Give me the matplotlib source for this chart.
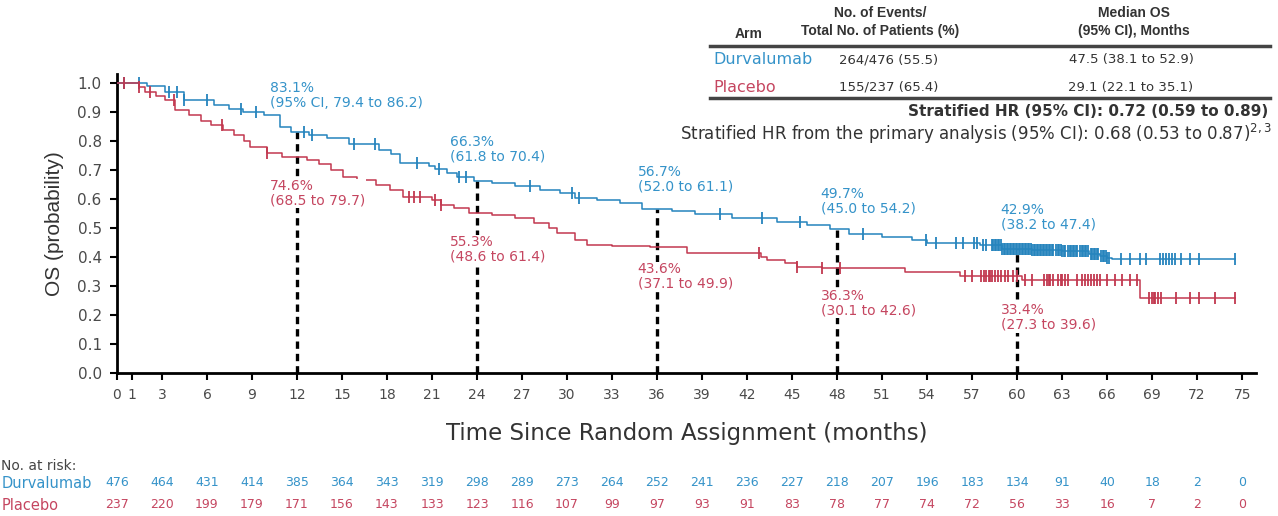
import numpy as np
import matplotlib
matplotlib.use("Agg")
import matplotlib.pyplot as plt
import matplotlib.transforms as mtransforms
from matplotlib.lines import Line2D

plt.rcParams['font.family'] = ['DejaVu Sans']

# Kaplan-Meier steps (event times in months, survival after each step)
dur_t = [0, 2.0, 3.2, 4.5, 6.5, 7.5, 8.4, 9.8, 10.9, 11.6, 12.8, 14.0, 15.5, 17.5, 18.3,
         18.9, 20.8, 21.2, 22.0, 22.7, 23.8, 25.0, 26.5, 28.2, 29.5, 30.5, 32.0, 33.5,
         35.0, 37.0, 38.5, 41.0, 44.0, 46.0, 47.5, 48.8, 51.0, 53.0, 54.0, 57.5, 59.0,
         61.0, 63.0, 64.8, 65.5, 66.0, 66.3]
dur_s = [1.0, 0.99, 0.97, 0.94, 0.925, 0.91, 0.90, 0.89, 0.85, 0.831, 0.82, 0.81, 0.79,
         0.77, 0.755, 0.725, 0.715, 0.703, 0.69, 0.677, 0.663, 0.655, 0.645, 0.632, 0.62,
         0.605, 0.595, 0.585, 0.567, 0.56, 0.548, 0.536, 0.522, 0.51, 0.497, 0.48, 0.47,
         0.46, 0.448, 0.44, 0.429, 0.425, 0.42, 0.412, 0.405, 0.398, 0.393]

pla_t = [0, 1.5, 1.9, 2.6, 3.2, 3.9, 4.8, 5.6, 6.3, 7.1, 7.8, 8.5, 8.9, 10.0, 11.0, 12.7,
         13.5, 14.3, 15.1, 16.0, 17.3, 18.2, 19.1, 21.0, 21.6, 22.5, 23.5, 25.0, 26.5,
         27.8, 28.8, 29.3, 30.5, 31.3, 33.0, 35.5, 38.0, 42.9, 43.3, 44.5, 45.3, 47.0,
         52.5, 56.2, 60.3, 68.2]
pla_s = [1.0, 0.985, 0.97, 0.955, 0.94, 0.907, 0.89, 0.87, 0.855, 0.838, 0.82, 0.80, 0.78,
         0.76, 0.746, 0.735, 0.72, 0.70, 0.677, 0.665, 0.648, 0.63, 0.608, 0.597, 0.579,
         0.57, 0.553, 0.545, 0.535, 0.517, 0.50, 0.483, 0.46, 0.441, 0.438, 0.436, 0.414,
         0.401, 0.39, 0.378, 0.367, 0.363, 0.35, 0.334, 0.321, 0.258]

# censoring times
dur_cens = [0.5, 1.5, 3.5, 4.0, 4.5, 6.0, 8.3, 9.3, 12.5, 13.0, 15.8, 17.2, 20.0, 21.5,
            22.8, 23.3, 27.5, 30.3, 30.8, 40.2, 43.0, 45.5, 49.7, 53.9, 54.6, 55.9, 56.4,
            57.1, 57.3, 57.7, 57.9,
            58.3, 58.4, 58.5, 58.6, 58.7, 58.8, 58.9, 59.0, 59.1, 59.2, 59.3, 59.4, 59.5,
            59.6, 59.7, 59.8, 59.9, 60.0, 60.1, 60.2, 60.3, 60.4, 60.5, 60.6, 60.7, 60.8,
            60.9, 61.0, 61.1, 61.2, 61.3, 61.4, 61.5, 61.6, 61.7, 61.8, 61.9, 62.0, 62.1,
            62.2, 62.3, 62.4, 62.6, 62.7, 62.8, 62.9, 63.0, 63.1, 63.2, 63.4, 63.5, 63.6,
            63.7, 63.8, 63.9, 64.0, 64.2, 64.3, 64.4, 64.5, 64.6, 64.7, 64.9, 65.0, 65.1,
            65.2, 65.3, 65.4, 65.6, 65.7, 65.8, 65.9, 66.0, 66.1,
            66.9, 67.5, 68.2, 68.6, 69.5, 69.7, 69.9, 70.1, 70.3, 70.5, 70.9, 71.5, 72.1,
            74.5]
pla_cens = [0.5, 1.5, 2.2, 3.8, 7.0, 10.0, 19.5, 19.8, 20.2, 21.2, 21.6, 42.8, 45.3, 47.0,
            48.2, 56.5, 57.0, 57.6, 57.8, 57.9, 58.1, 58.2, 58.3, 58.5, 58.7, 58.9, 59.2,
            59.4, 59.7, 60.0, 60.5, 61.0, 61.8, 62.0, 62.1, 62.2, 62.4, 62.7, 62.9, 63.0,
            63.2, 63.4, 64.0, 64.3, 64.5, 64.7, 64.9, 65.1, 65.3, 65.5, 66.0, 66.5, 67.0,
            67.5, 68.0, 68.8, 69.0, 69.1, 69.2, 69.4, 69.6, 70.6, 71.5, 72.1, 73.2, 74.5]

# landmark estimates (%), with 95% CI
landmarks = [12, 24, 36, 48, 60]
dur_pct = [83.1, 66.3, 56.7, 49.7, 42.9]
dur_lo = [79.4, 61.8, 52.0, 45.0, 38.2]
dur_hi = [86.2, 70.4, 61.1, 54.2, 47.4]
pla_pct = [74.6, 55.3, 43.6, 36.3, 33.4]
pla_lo = [68.5, 48.6, 37.1, 30.1, 27.3]
pla_hi = [79.7, 61.4, 49.9, 42.6, 39.6]

# number at risk every 3 months
risk_times = list(range(0, 76, 3))
dur_risk = [476, 464, 431, 414, 385, 364, 343, 319, 298, 289, 273, 264, 252, 241, 236,
            227, 218, 207, 196, 183, 134, 91, 40, 18, 2, 0]
pla_risk = [237, 220, 199, 179, 171, 156, 143, 133, 123, 116, 107, 99, 97, 93, 91, 83,
            78, 77, 74, 72, 56, 33, 16, 7, 2, 0]

arms = ["Durvalumab", "Placebo"]
events = ["264/476 (55.5)", "155/237 (65.4)"]
medians = ["47.5 (38.1 to 52.9)", "29.1 (22.1 to 35.1)"]

BLUE = "#2584bd"
RED = "#c2384f"
BLUE_TXT = "#3593c9"
RED_TXT = "#c54660"
DARK = "#333333"


def km_at(times, surv, x):
    i = np.searchsorted(times, x, side='right') - 1
    return np.asarray(surv)[i]


fig = plt.figure(figsize=(12.78, 5.16), dpi=100)
ax = fig.add_axes([0.0915, 0.277, 0.891, 0.579])

for times, surv, cens, col in [(dur_t, dur_s, dur_cens, BLUE), (pla_t, pla_s, pla_cens, RED)]:
    tt = np.append(times, cens[-1])
    ss = np.append(surv, surv[-1])
    ax.step(tt, ss, where='post', color=col, lw=1.1, zorder=3)
    ax.plot(cens, km_at(times, surv, cens), ls='none', marker='|', ms=8, mew=1.3,
            color=col, zorder=3)

# dashed landmark lines
for lm in landmarks:
    ax.plot([lm, lm], [0, km_at(dur_t, dur_s, lm)], color='black', lw=2.4,
            ls=(0, (2.2, 1.5)), zorder=2)

# landmark labels
lab_x = [10.2, 22.2, 34.7, 46.9, 58.9]
dur_lab_y = [0.957, 0.772, 0.667, 0.591, 0.538]
pla_lab_y = [0.619, 0.426, 0.333, 0.240, 0.191]
for k in range(len(landmarks)):
    if k == 0:
        ci = f"(95% CI, {dur_lo[k]:.1f} to {dur_hi[k]:.1f})"
    else:
        ci = f"({dur_lo[k]:.1f} to {dur_hi[k]:.1f})"
    ax.text(lab_x[k], dur_lab_y[k], f"{dur_pct[k]:.1f}%\n{ci}", color=BLUE_TXT,
            fontsize=10, ha='left', va='center', linespacing=1.05, zorder=4)
    ax.text(lab_x[k], pla_lab_y[k], f"{pla_pct[k]:.1f}%\n({pla_lo[k]:.1f} to {pla_hi[k]:.1f})",
            color=RED_TXT, fontsize=10, ha='left', va='center', linespacing=1.05, zorder=4,
            bbox=dict(facecolor='white', edgecolor='none', pad=0.5))

ax.set_xlim(0, 75.9)
ax.set_ylim(0, 1.03)
ax.set_xticks([0, 1] + list(range(3, 76, 3)))
ax.set_yticks(np.arange(0, 1.01, 0.1))
ax.set_yticklabels([f"{v:.1f}" for v in np.arange(0, 1.01, 0.1)])
for side in ['top', 'right']:
    ax.spines[side].set_visible(False)
for side in ['left', 'bottom']:
    ax.spines[side].set_linewidth(2)
ax.tick_params(direction='out', length=5, width=1.5, labelcolor='#4a4a4a', pad=6)
ax.tick_params(axis='x', labelsize=10)
ax.tick_params(axis='y', labelsize=11)
ax.set_ylabel("OS (probability)", fontsize=15, color=DARK, labelpad=10,
              family='Liberation Sans')
ax.set_xlabel("Time Since Random Assignment (months)", fontsize=16.5, color=DARK,
              labelpad=14)

# numbers at risk
trans = mtransforms.blended_transform_factory(ax.transData, fig.transFigure)
fig.text(0.001, 1 - 466 / 516, "No. at risk:", fontsize=10, color='#444444', va='center')
fig.text(0.001, 1 - 483 / 516, arms[0], fontsize=10.5, color=BLUE_TXT, va='center')
fig.text(0.001, 1 - 505 / 516, arms[1], fontsize=10.5, color=RED_TXT, va='center')
for x, a, b in zip(risk_times, dur_risk, pla_risk):
    fig.text(x, 1 - 483 / 516, str(a), transform=trans, fontsize=9, color=BLUE_TXT,
             ha='center', va='center')
    fig.text(x, 1 - 505 / 516, str(b), transform=trans, fontsize=9, color=RED_TXT,
             ha='center', va='center')

# summary table
W, H = 1278, 516
fig.text(735 / W, 1 - 34 / H, "Arm", fontsize=10, weight='bold', color=DARK, va='center',
         family='Liberation Sans')
fig.text(880 / W, 1 - 22 / H, "No. of Events/\nTotal No. of Patients (%)", fontsize=10,
         weight='bold', color=DARK, ha='center', va='center', linespacing=1.35,
         family='Liberation Sans')
fig.text(1134 / W, 1 - 22 / H, "Median OS\n(95% CI), Months", fontsize=10,
         weight='bold', color=DARK, ha='center', va='center', linespacing=1.35,
         family='Liberation Sans')
fig.add_artist(Line2D([710 / W, 1270 / W], [1 - 46 / H] * 2, color='#444444', lw=2.5))
for row, (arm, ev, med, col) in enumerate(zip(arms, events, medians, [BLUE_TXT, RED_TXT])):
    y = 1 - (60 + 27 * row) / H
    fig.text(713 / W, y, arm, fontsize=11.5, color=col, va='center')
    fig.text(889 / W, y, ev, fontsize=9.5, color=DARK, ha='center', va='center')
    fig.text(1131 / W, y, med, fontsize=9.5, color=DARK, ha='center', va='center')
fig.add_artist(Line2D([710 / W, 1270 / W], [1 - 98 / H] * 2, color='#444444', lw=2.5))
fig.text(1268 / W, 1 - 112 / H, "Stratified HR (95% CI): 0.72 (0.59 to 0.89)", fontsize=11,
         weight='bold', color=DARK, ha='right', va='center')
fig.text(1272 / W, 1 - 134 / H,
         r"Stratified HR from the primary analysis (95% CI): 0.68 (0.53 to 0.87)$^{2,3}$",
         fontsize=12, color=DARK, ha='right', va='center')

fig.savefig("out.png", dpi=100)
